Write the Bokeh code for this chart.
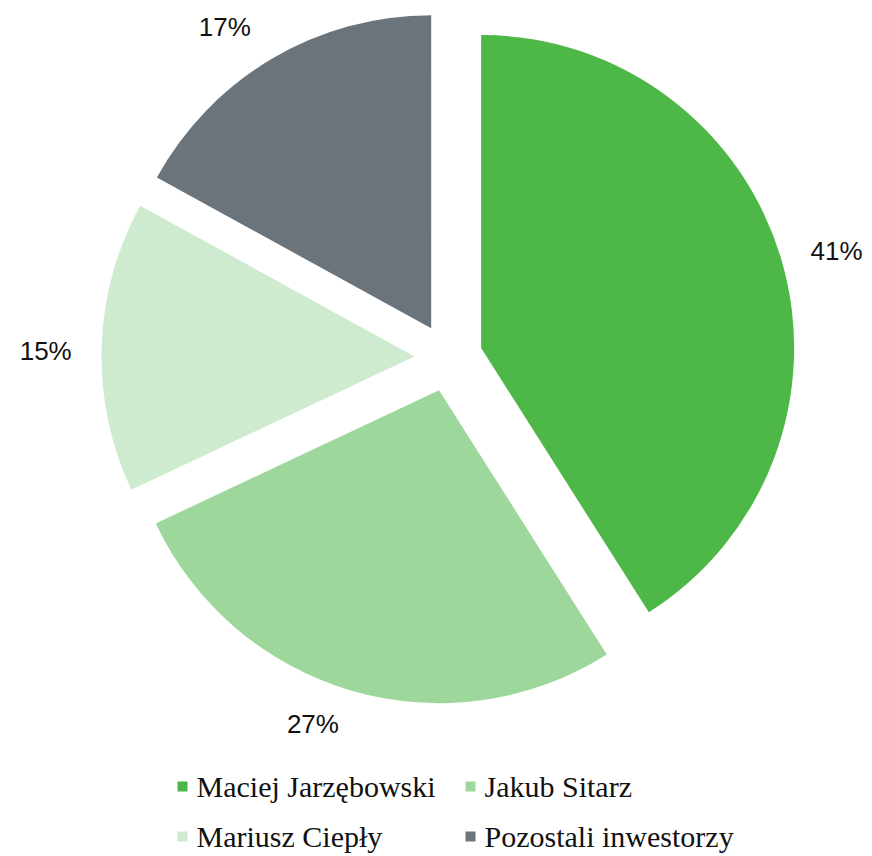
import math
from bokeh.plotting import figure
from bokeh.models import ColumnDataSource
from bokeh.core.properties import value
from bokeh.embed import file_html
from bokeh.resources import INLINE

names = ["Maciej Jarzębowski", "Jakub Sitarz", "Mariusz Ciepły", "Pozostali inwestorzy"]
shares = [41, 27, 15, 17]
labels = ["41%", "27%", "15%", "17%"]
colors = ["#4DB848", "#9DD79B", "#CFEBCF", "#6B737B"]

# small layout nudges for the outside-end labels (pixels)
label_nudge_x = [4, -24, -3, -20]
label_nudge_y = [5, -18, 6, 14]

W, H = 872, 856
p = figure(width=W, height=H, x_range=(0, W), y_range=(0, H),
           output_backend="svg", toolbar_location=None, min_border=0)
p.axis.visible = False
p.grid.visible = False
p.outline_line_color = None
p.background_fill_color = "white"

cx, cy = 448, H - 357
r = 313
explode = 34
label_r = 400

total = sum(shares)
xs, ys, sa, ea, lx, ly = [], [], [], [], [], []
cum = 0.0
for i, s in enumerate(shares):
    t0 = cum / total * 2 * math.pi
    cum += s
    t1 = cum / total * 2 * math.pi
    tm = (t0 + t1) / 2
    xs.append(cx + explode * math.sin(tm))
    ys.append(cy + explode * math.cos(tm))
    sa.append(math.pi / 2 - t0)
    ea.append(math.pi / 2 - t1)
    lx.append(cx + label_r * math.sin(tm) + label_nudge_x[i])
    ly.append(cy + label_r * math.cos(tm) - label_nudge_y[i])

src = ColumnDataSource(dict(x=xs, y=ys, sa=sa, ea=ea, color=colors, lx=lx, ly=ly, label=labels))
p.wedge(x="x", y="y", radius=r, start_angle="sa", end_angle="ea", direction="clock",
        fill_color="color", line_color=None, source=src)
p.text(x="lx", y="ly", text="label", source=src, text_align="center", text_baseline="middle",
       text_font=value("Liberation Sans"), text_font_size="26px", text_color="#111111")

# legend (two columns, two rows)
leg_x = [182, 470, 182, 470]
leg_y = [H - 786, H - 786, H - 836, H - 836]
lsrc = ColumnDataSource(dict(x=leg_x, y=leg_y, tx=[v + 14 for v in leg_x], name=names, color=colors))
p.rect(x="x", y="y", width=10, height=10, fill_color="color", line_color=None, source=lsrc)
p.text(x="tx", y="y", text="name", source=lsrc, text_align="left", text_baseline="middle",
       text_font=value("Liberation Serif"), text_font_size="30px", text_color="#111111")

open("out.html", "w").write(file_html(p, INLINE))
